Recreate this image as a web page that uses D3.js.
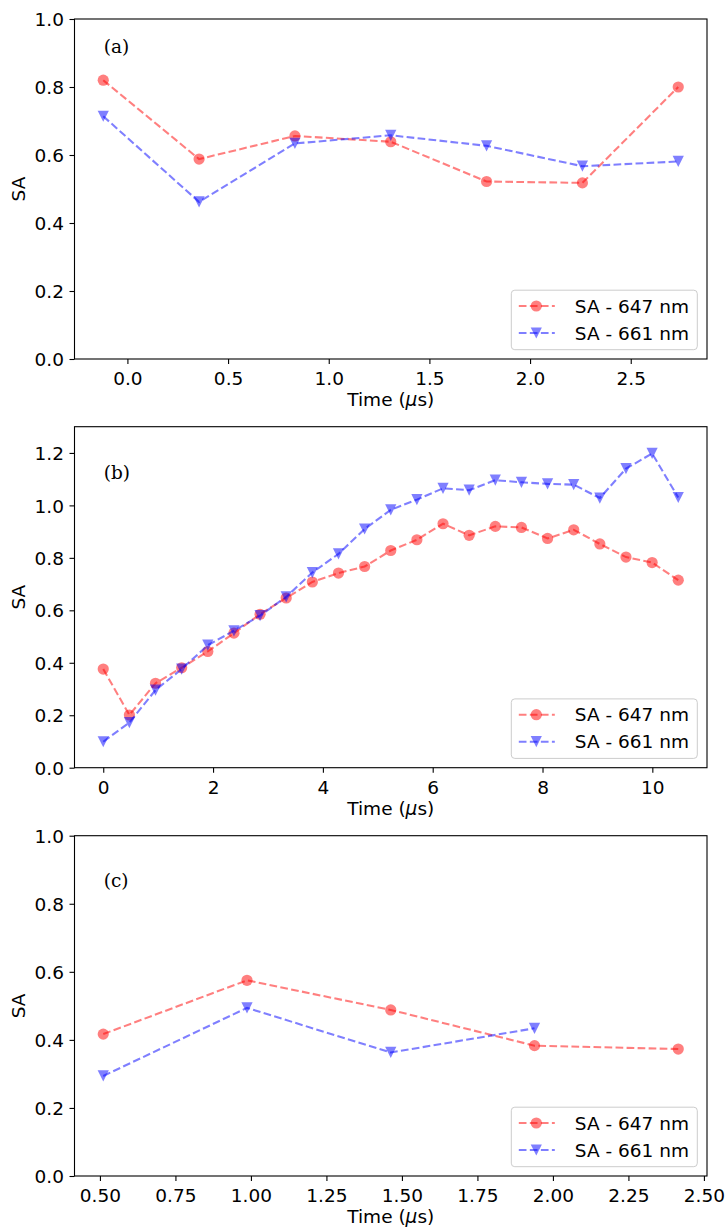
<!DOCTYPE html>
<html><head><meta charset="utf-8">
<script src="https://cdn.jsdelivr.net/npm/d3@7"></script>
<style>body{margin:0;background:#fff}svg{display:block}</style>
</head><body>
<svg id="chart" width="726" height="1228"></svg>
<script>
// ---- data ----
const timeA = [-0.12, 0.356, 0.832, 1.308, 1.784, 2.26, 2.736];
const sa647A = [0.82, 0.588, 0.656, 0.639, 0.522, 0.518, 0.80];
const sa661A = [0.714, 0.462, 0.634, 0.658, 0.627, 0.567, 0.581];

const timeB = [0, 0.476, 0.952, 1.428, 1.904, 2.38, 2.856, 3.332, 3.808, 4.284, 4.76, 5.236,
               5.712, 6.188, 6.664, 7.14, 7.616, 8.092, 8.568, 9.044, 9.52, 9.996, 10.472];
const sa647B = [0.376, 0.201, 0.322, 0.381, 0.443, 0.513, 0.585, 0.647, 0.708, 0.742, 0.767, 0.828,
                0.869, 0.930, 0.886, 0.920, 0.916, 0.874, 0.907, 0.853, 0.803, 0.782, 0.715];
const sa661B = [0.099, 0.172, 0.296, 0.376, 0.467, 0.522, 0.580, 0.651, 0.744, 0.815, 0.910, 0.983,
                1.022, 1.065, 1.058, 1.096, 1.088, 1.082, 1.079, 1.028, 1.140, 1.198, 1.030];

const timeC647 = [0.511, 0.987, 1.463, 1.939, 2.415];
const sa647C = [0.417, 0.575, 0.488, 0.383, 0.373];
const timeC661 = [0.511, 0.987, 1.463, 1.939];
const sa661C = [0.294, 0.494, 0.363, 0.434];

const xTicksA = [0, 0.5, 1.0, 1.5, 2.0, 2.5];
const xTicksB = [0, 2, 4, 6, 8, 10];
const xTicksC = [0.5, 0.75, 1.0, 1.25, 1.5, 1.75, 2.0, 2.25, 2.5];
const yTicksA = [0, 0.2, 0.4, 0.6, 0.8, 1.0];
const yTicksB = [0, 0.2, 0.4, 0.6, 0.8, 1.0, 1.2];
const yTicksC = [0, 0.2, 0.4, 0.6, 0.8, 1.0];
const panelLabels = ["(a)", "(b)", "(c)"];
const legendLabels = ["SA - 647 nm", "SA - 661 nm"];
const xLabel = "Time (", xLabelMu = "\u03bc", xLabelEnd = "s)";
const yLabel = "SA";

// ---- layout ----
const svg = d3.select("#chart");
const LEFT = 74.5, RIGHT = 707;
const FONT = "DejaVu Sans, sans-serif";
const FS = 18.5;
const RED = "#ff0000", BLUE = "#0000ff";

const panels = [
  {top: 19, bottom: 359, s647: [timeA, sa647A], s661: [timeA, sa661A], xt: xTicksA, xf: d3.format(".1f"),
   yd: [0, 1], yt: yTicksA, lab: panelLabels[0], labY: 0.9},
  {top: 426.7, bottom: 767.7, s647: [timeB, sa647B], s661: [timeB, sa661B], xt: xTicksB, xf: d3.format("d"),
   yd: [0, 1.3], yt: yTicksB, lab: panelLabels[1], labY: 1.1},
  {top: 835.7, bottom: 1176, s647: [timeC647, sa647C], s661: [timeC661, sa661C], xt: xTicksC, xf: d3.format(".2f"),
   yd: [0, 1], yt: yTicksC, lab: panelLabels[2], labY: 0.85}
];

function triPath(s) {
  const h = s / 2;
  return `M${-h},${-h}L${h},${-h}L0,${h}Z`;
}

panels.forEach(p => {
  const allX = p.s647[0].concat(p.s661[0]);
  const xmin = d3.min(allX), xmax = d3.max(allX), pad = 0.05 * (xmax - xmin);
  const x = d3.scaleLinear().domain([xmin - pad, xmax + pad]).range([LEFT, RIGHT]);
  const y = d3.scaleLinear().domain(p.yd).range([p.bottom, p.top]);
  const g = svg.append("g");

  // x axis ticks
  const xa = g.append("g").attr("transform", `translate(0,${p.bottom})`)
    .call(d3.axisBottom(x).tickValues(p.xt).tickFormat(p.xf).tickSize(5).tickPadding(6));
  xa.select(".domain").remove();
  xa.selectAll("line").attr("stroke", "#000").attr("stroke-width", 1.1);
  xa.selectAll("text").attr("font-family", FONT).attr("font-size", FS).attr("fill", "#000")
    .attr("dy", null).attr("y", 25.9);

  // y axis ticks
  const ya = g.append("g").attr("transform", `translate(${LEFT},0)`)
    .call(d3.axisLeft(y).tickValues(p.yt).tickFormat(d3.format(".1f")).tickSize(5).tickPadding(5));
  ya.select(".domain").remove();
  ya.selectAll("line").attr("stroke", "#000").attr("stroke-width", 1.1);
  ya.selectAll("text").attr("font-family", FONT).attr("font-size", FS).attr("fill", "#000")
    .attr("dy", "0.36em").attr("x", -10.5);

  // series
  const line = d3.line().x(d => x(d[0])).y(d => y(d[1]));
  [[p.s647, RED, "o"], [p.s661, BLUE, "v"]].forEach(([s, col, mk]) => {
    const pts = s[0].map((t, i) => [t, s[1][i]]);
    g.append("path").datum(pts).attr("d", line).attr("fill", "none")
      .attr("stroke", col).attr("stroke-opacity", 0.5).attr("stroke-width", 2.08)
      .attr("stroke-dasharray", "7.7,3.33");
    if (mk === "o") {
      g.selectAll(null).data(pts).enter().append("circle")
        .attr("cx", d => x(d[0])).attr("cy", d => y(d[1])).attr("r", 5.6)
        .attr("fill", col).attr("fill-opacity", 0.5);
    } else {
      g.selectAll(null).data(pts).enter().append("path")
        .attr("d", triPath(11.2)).attr("transform", d => `translate(${x(d[0])},${y(d[1])})`)
        .attr("fill", col).attr("fill-opacity", 0.5);
    }
  });

  // frame
  g.append("rect").attr("x", LEFT).attr("y", p.top).attr("width", RIGHT - LEFT).attr("height", p.bottom - p.top)
    .attr("fill", "none").attr("stroke", "#000").attr("stroke-width", 1.1);

  // panel label
  g.append("text").attr("x", x(p.s647[0][0]) + 0.5).attr("y", y(p.labY))
    .attr("font-family", "DejaVu Serif, serif").attr("font-size", 18.5).text(p.lab);

  // axis labels
  const xl = g.append("text").attr("x", (LEFT + RIGHT) / 2).attr("y", p.bottom + 47)
    .attr("text-anchor", "middle").attr("font-family", FONT).attr("font-size", FS);
  xl.append("tspan").text(xLabel);
  xl.append("tspan").attr("font-style", "italic").text(xLabelMu);
  xl.append("tspan").text(xLabelEnd);
  g.append("text").attr("transform", `translate(25,${(p.top + p.bottom) / 2}) rotate(-90)`)
    .attr("text-anchor", "middle").attr("font-family", FONT).attr("font-size", FS).text(yLabel);

  // legend
  const bx0 = RIGHT - 195.7, bx1 = RIGHT - 9.7, by1 = p.bottom - 9.3, by0 = by1 - 59.5;
  g.append("rect").attr("x", bx0).attr("y", by0).attr("width", bx1 - bx0).attr("height", by1 - by0)
    .attr("rx", 3.5).attr("fill", "#fff").attr("fill-opacity", 0.8)
    .attr("stroke", "#cccccc").attr("stroke-width", 1);
  [[RED, "o"], [BLUE, "v"]].forEach(([col, mk], i) => {
    const cy = by0 + 15.8 + i * 27;
    g.append("line").attr("x1", bx0 + 7.5).attr("x2", bx0 + 43.5).attr("y1", cy).attr("y2", cy)
      .attr("stroke", col).attr("stroke-opacity", 0.5).attr("stroke-width", 2.08)
      .attr("stroke-dasharray", "7.7,3.33");
    if (mk === "o") {
      g.append("circle").attr("cx", bx0 + 25).attr("cy", cy).attr("r", 5.6)
        .attr("fill", col).attr("fill-opacity", 0.5);
    } else {
      g.append("path").attr("d", triPath(11.2)).attr("transform", `translate(${bx0 + 25},${cy})`)
        .attr("fill", col).attr("fill-opacity", 0.5);
    }
    g.append("text").attr("x", bx0 + 63.5).attr("y", cy).attr("dy", "0.36em")
      .attr("font-family", FONT).attr("font-size", FS).text(legendLabels[i]);
  });
});
</script>
</body></html>
